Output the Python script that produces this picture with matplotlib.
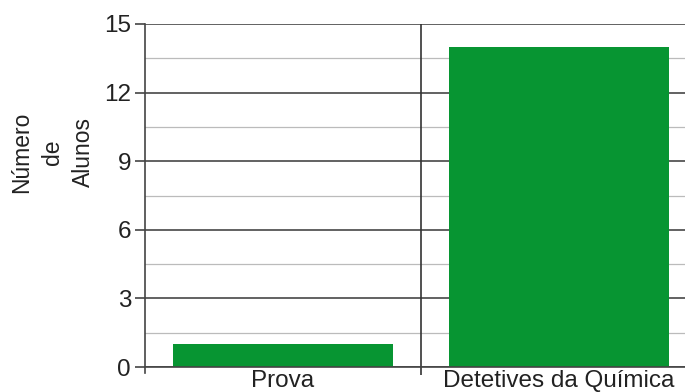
import matplotlib
matplotlib.use("Agg")
import matplotlib.pyplot as plt
from matplotlib.ticker import MultipleLocator

categories = ["Prova", "Detetives da Química"]
values = [1, 14]
y_ticks = [0, 3, 6, 9, 12, 15]

plt.rcParams["font.family"] = ["Liberation Sans", "DejaVu Sans"]

W, H = 685, 392
fig = plt.figure(figsize=(W / 100, H / 100), dpi=100)
fig.patch.set_facecolor("white")

# axes box in pixel units: left 145, right 697 (runs past the right edge), top 24, bottom 367
left, right, top, bottom = 145, 697, 24, 367
ax = fig.add_axes([left / W, 1 - bottom / H, (right - left) / W, (bottom - top) / H])

x = list(range(len(categories)))
ax.bar(x, values, width=0.795, color="#079532", zorder=3, linewidth=0)

ax.set_xlim(-0.5, len(categories) - 0.5)
ax.set_ylim(0, 15)
ax.set_yticks(y_ticks)
ax.set_yticklabels([str(v) for v in y_ticks], fontsize=17.5, color="#222222")
ax.yaxis.set_minor_locator(MultipleLocator(1.5))

# horizontal gridlines: darker at labelled values, lighter in between
ax.grid(axis="y", which="major", color="#555555", linewidth=1.3, zorder=1)
ax.grid(axis="y", which="minor", color="#bbbbbb", linewidth=0.9, zorder=1)
ax.tick_params(axis="y", which="major", length=7, width=1.2, color="#444444", pad=3)
ax.tick_params(axis="y", which="minor", length=0)

# category labels, with separators between categories
ax.set_xticks(x)
ax.set_xticklabels(categories, fontsize=17.5, color="#222222")
ax.tick_params(axis="x", which="major", length=0, pad=2)
ax.set_xticks([i + 0.5 for i in x[:-1]], minor=True)
ax.tick_params(axis="x", which="minor", length=6, width=1.2, color="#333333", direction="out")
for sep in [i + 0.5 for i in x[:-1]]:
    ax.axvline(sep, color="#333333", linewidth=1.2, zorder=2)

for s in ["top", "right"]:
    ax.spines[s].set_visible(False)
ax.spines["left"].set_color("#444444")
ax.spines["left"].set_linewidth(1.2)
ax.spines["left"].set_bounds(-0.25, 15)
ax.spines["bottom"].set_color("#444444")
ax.spines["bottom"].set_linewidth(1.2)
ax.spines["bottom"].set_zorder(4)

# stacked y-axis title
for line, xp in zip(["Número", "de", "Alunos"], [22, 53, 83]):
    fig.text(xp / W, 1 - 152 / H, line, rotation=90, fontsize=16.5,
             ha="center", va="center", color="#222222")

fig.savefig("out.png", dpi=100, facecolor="white")
